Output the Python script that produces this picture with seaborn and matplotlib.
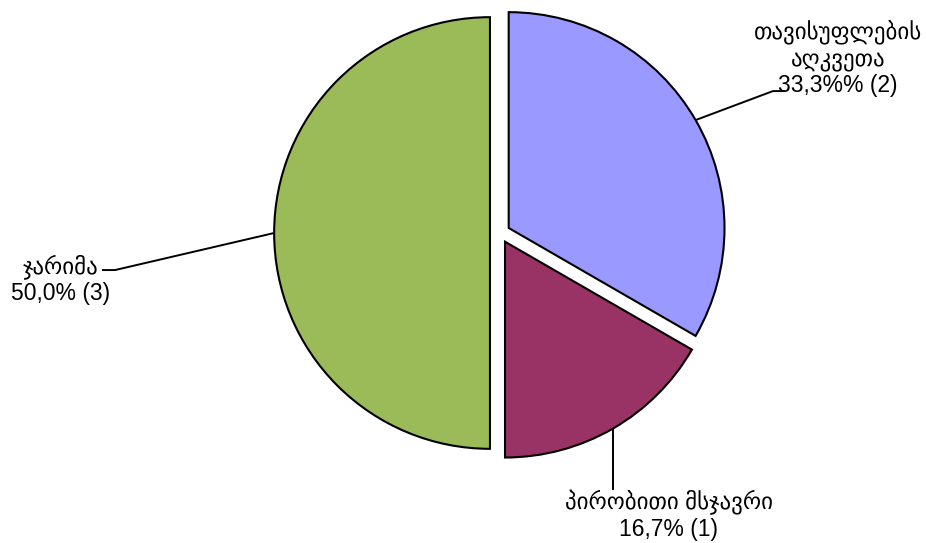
import numpy as np
import matplotlib
matplotlib.use("Agg")
import matplotlib.pyplot as plt
import seaborn as sns

# Datos del gráfico
categorias = ["თავისუფლების\nაღკვეთა", "პირობითი მსჯავრი", "ჯარიმა"]
cantidades = [2, 1, 3]
porcentajes = ["33,3%%", "16,7%", "50,0%"]
colores = ["#9999FF", "#993366", "#9BBB59"]

sns.set_style("white")
plt.rcParams["font.family"] = ["Liberation Sans", "DejaVu Sans"]

fig = plt.figure(figsize=(9.26, 5.43), dpi=100)
ax = fig.add_axes([0, 0, 1, 1])

explode = 0.046
wedges, _ = ax.pie(cantidades, colors=colores, startangle=90, counterclock=False,
                   explode=[explode] * len(cantidades), radius=0.99,
                   wedgeprops=dict(edgecolor="black", linewidth=1.5))

# Posiciones de las etiquetas (codo de la línea, final de la línea, texto)
codos = [(1.252, 0.651), None, (-1.766, -0.170)]
finales = [(1.307, 0.651), (None, -1.179), (-1.826, -0.170)]
textos_pos = [(1.55, 0.80), (0.775, -1.296), (-2.014, -0.213)]

for i, w in enumerate(wedges):
    ang = np.deg2rad((w.theta1 + w.theta2) / 2)
    cx, cy = w.center
    ax_, ay_ = cx + w.r * np.cos(ang), cy + w.r * np.sin(ang)
    xs, ys = [ax_], [ay_]
    if codos[i] is not None:
        xs.append(codos[i][0]); ys.append(codos[i][1])
    fx, fy = finales[i]
    xs.append(ax_ if fx is None else fx); ys.append(fy)
    ax.plot(xs, ys, color="black", lw=1.4, solid_capstyle="butt")
    etiqueta = f"{categorias[i]}\n{porcentajes[i]} ({cantidades[i]})"
    ax.text(textos_pos[i][0], textos_pos[i][1], etiqueta, ha="center", va="center",
            multialignment="center", fontsize=16.5, linespacing=1.18, color="black")

ax.set_xlim(-500 / 218, 426 / 218)
ax.set_ylim(-310 / 218, 233 / 218)
ax.set_aspect("equal")
ax.axis("off")

fig.savefig("out.png", dpi=100, facecolor="white")
